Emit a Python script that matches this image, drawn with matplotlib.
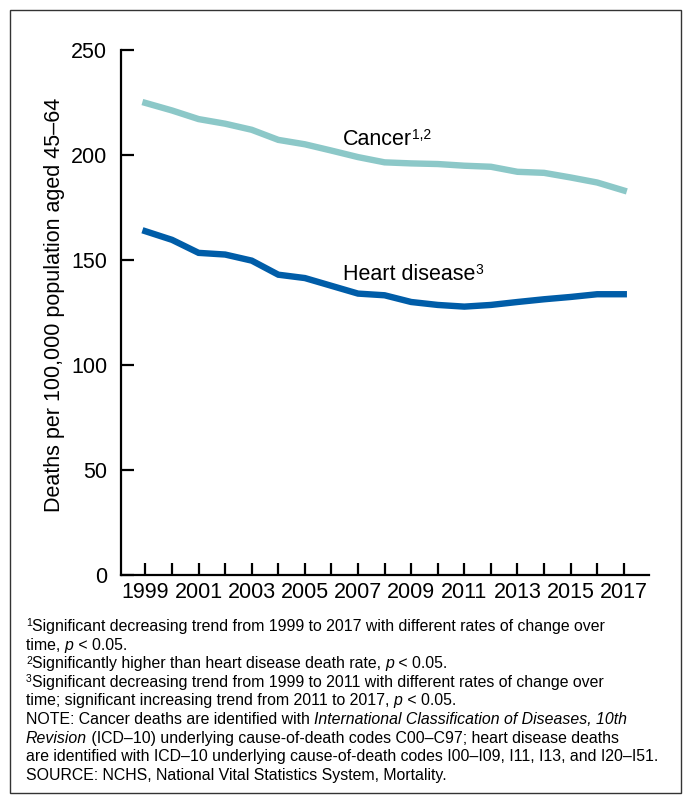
import numpy as np
import matplotlib
matplotlib.use('Agg')
import matplotlib.pyplot as plt
from matplotlib.patches import Rectangle

plt.rcParams['font.family'] = ['Liberation Sans', 'DejaVu Sans']

# Data
years = list(range(1999, 2018))
cancer = [224.8, 221.2, 217.1, 214.9, 212.0, 207.2, 205.1, 202.1, 199.0, 196.5,
          196.0, 195.7, 194.9, 194.4, 192.0, 191.5, 189.3, 186.9, 183.1]
heart = [163.7, 159.6, 153.4, 152.6, 149.7, 143.0, 141.4, 137.7, 134.0, 133.2,
         130.0, 128.6, 127.8, 128.6, 130.0, 131.3, 132.4, 133.7, 133.7]
ytick_vals = [0, 50, 100, 150, 200, 250]

# footnote lines as (text, style) segments; 'sup' = superscript, 'it' = italic
footnotes = [
    [('1', 'sup'), ('Significant decreasing trend from 1999 to 2017 with different rates of change over', '')],
    [('time, ', ''), ('p', 'it'), (' < 0.05.', '')],
    [('2', 'sup'), ('Significantly higher than heart disease death rate, ', ''), ('p', 'it'), (' < 0.05.', '')],
    [('3', 'sup'), ('Significant decreasing trend from 1999 to 2011 with different rates of change over', '')],
    [('time; significant increasing trend from 2011 to 2017, ', ''), ('p', 'it'), (' < 0.05.', '')],
    [('NOTE: Cancer deaths are identified with ', ''), ('International Classification of Diseases, 10th', 'it')],
    [('Revision', 'it'), (' (ICD–10) underlying cause-of-death codes C00–C97; heart disease deaths', '')],
    [('are identified with ICD–10 underlying cause-of-death codes I00–I09, I11, I13, and I20–I51.', '')],
    [('SOURCE: NCHS, National Vital Statistics System, Mortality.', '')],
]

W, H = 685, 797
fig = plt.figure(figsize=(W / 100, H / 100), dpi=100)
renderer = fig.canvas.get_renderer()


def px(x, y):
    return x / W, 1 - y / H


def rich_text(x, y, segs, size, sup_size, sup_rise):
    # lay out segments left to right, x/y in pixels (y = baseline)
    for txt, style in segs:
        kw = dict(fontsize=size, va='baseline')
        yy = y
        if style == 'sup':
            kw['fontsize'] = sup_size
            yy = y - sup_rise
        elif style == 'it':
            kw['style'] = 'italic'
        t = fig.text(*px(x, yy), txt, **kw)
        bb = t.get_window_extent(renderer)
        x += bb.width


# outer frame
fig.patches.append(Rectangle(px(10, 793), 671 / W, 783 / H,
                             transform=fig.transFigure, fill=False,
                             edgecolor='#333333', linewidth=1.0))

ax = fig.add_axes([121 / W, 1 - 575 / H, (649 - 121) / W, (575 - 50) / H])

ax.plot(years, cancer, color='#8CC8C8', linewidth=4.6, solid_joinstyle='miter')
ax.plot(years, heart, color='#005DA8', linewidth=4.6, solid_joinstyle='miter')

ax.set_ylim(0, 250)
ax.set_xlim(1998.08, 2017.95)
ax.set_yticks(ytick_vals)
ax.set_xticks(years)
ax.set_xticklabels([str(y) if (y - 1999) % 2 == 0 else '' for y in years])

for s in ['top', 'right']:
    ax.spines[s].set_visible(False)
for s in ['left', 'bottom']:
    ax.spines[s].set_linewidth(1.6)
ax.tick_params(direction='in', length=9, width=1.6, labelsize=15.5, pad=5)
ax.tick_params(axis='y', pad=10)
ax.set_ylabel('Deaths per 100,000 population aged 45–64', fontsize=15.5)
ax.yaxis.set_label_coords((65 - 121) / 528, (575 - 305) / 525)

# series labels with superscripts
rich_text(343, 145, [('Cancer', ''), ('1,2', 'sup')], 15.5, 10, 6)
rich_text(343, 280, [('Heart disease', ''), ('3', 'sup')], 15.5, 10, 6)

for i, segs in enumerate(footnotes):
    rich_text(26, 631 + i * 18.6, segs, 11.4, 7.5, 4.5)

fig.savefig('out.png', dpi=100)
